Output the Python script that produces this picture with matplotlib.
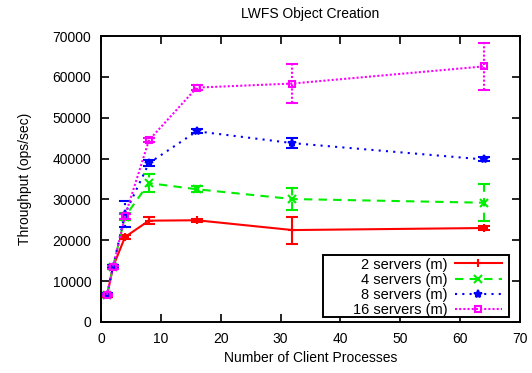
import matplotlib.pyplot as plt
from matplotlib.lines import Line2D
from matplotlib.patches import Rectangle

# ---------------------------------------------
# Data
# ---------------------------------------------
clients = [1, 2, 4, 8, 16, 32, 64]

srv2 = [6500, 13500, 20800, 24800, 24900, 22500, 23000]
srv2_err = [300, 400, 500, 900, 400, 3300, 600]

srv4 = [6700, 13500, 25800, 34000, 32500, 30100, 29200]
srv4_err = [300, 400, 800, 2200, 700, 2800, 4600]

srv8 = [6700, 13500, 26500, 38900, 46700, 43800, 39800]
srv8_err = [300, 400, 3200, 700, 500, 1200, 500]

srv16 = [6600, 13400, 25900, 44500, 57400, 58400, 62600]
srv16_err = [300, 400, 600, 500, 600, 4700, 5700]

series = [
    ("2 servers (m)", srv2, srv2_err, "#ff0000", "-", "+"),
    ("4 servers (m)", srv4, srv4_err, "#00ee00", (0, (4, 3)), "x"),
    ("8 servers (m)", srv8, srv8_err, "#0000ff", (0, (1, 2.5)), "*"),
    ("16 servers (m)", srv16, srv16_err, "#ff00ff", (0, (1, 1)), "s"),
]

plt.rcParams["font.family"] = ["Liberation Sans", "DejaVu Sans"]
plt.rcParams["font.size"] = 10

fig = plt.figure(figsize=(5.32, 3.73), dpi=100)
ax = fig.add_axes([0.19, 0.137, 0.787, 0.766])

handles = []
for label, vals, errs, color, ls, mk in series:
    mfc = "none" if mk == "s" else color
    ms = 5 if mk == "s" else 6
    eb = ax.errorbar(clients, vals, yerr=errs, color=color, linestyle=ls,
                     linewidth=1.5, marker=mk, markersize=ms,
                     markerfacecolor=mfc, markeredgewidth=1.5,
                     capsize=4, elinewidth=1.5)
    for bar in eb[2]:
        bar.set_linestyle(ls)
    handles.append(Line2D([], [], color=color, linestyle=ls, linewidth=1.5,
                          marker=mk, markersize=ms, markerfacecolor=mfc,
                          markeredgewidth=1.5, label=label))

ax.set_xlim(0, 70)
ax.set_ylim(0, 70000)
ax.set_xticks(range(0, 71, 10))
ax.set_yticks(range(0, 70001, 10000))
ax.tick_params(direction="in", length=6, top=True, right=True, width=1.2, pad=7)
for s in ax.spines.values():
    s.set_linewidth(1.4)

ax.set_title("LWFS Object Creation", fontsize=10, pad=13)
ax.set_xlabel("Number of Client Processes", labelpad=4)
ax.set_ylabel("Throughput (ops/sec)", labelpad=15)

# gnuplot-style key box (wider than the text block)
ax.add_patch(Rectangle((0.530, 0.017), 0.444, 0.217, transform=ax.transAxes,
                       facecolor="white", edgecolor="black", linewidth=1.4,
                       zorder=4.5))
leg = ax.legend(handles=handles, loc="lower right", bbox_to_anchor=(0.957, 0.017),
                markerfirst=False, alignment="right", frameon=False,
                borderpad=0, labelspacing=0.08, handlelength=3.2,
                handletextpad=0.5, fontsize=10.5, borderaxespad=0)
leg.set_zorder(5)

fig.savefig("out.png", dpi=100)
